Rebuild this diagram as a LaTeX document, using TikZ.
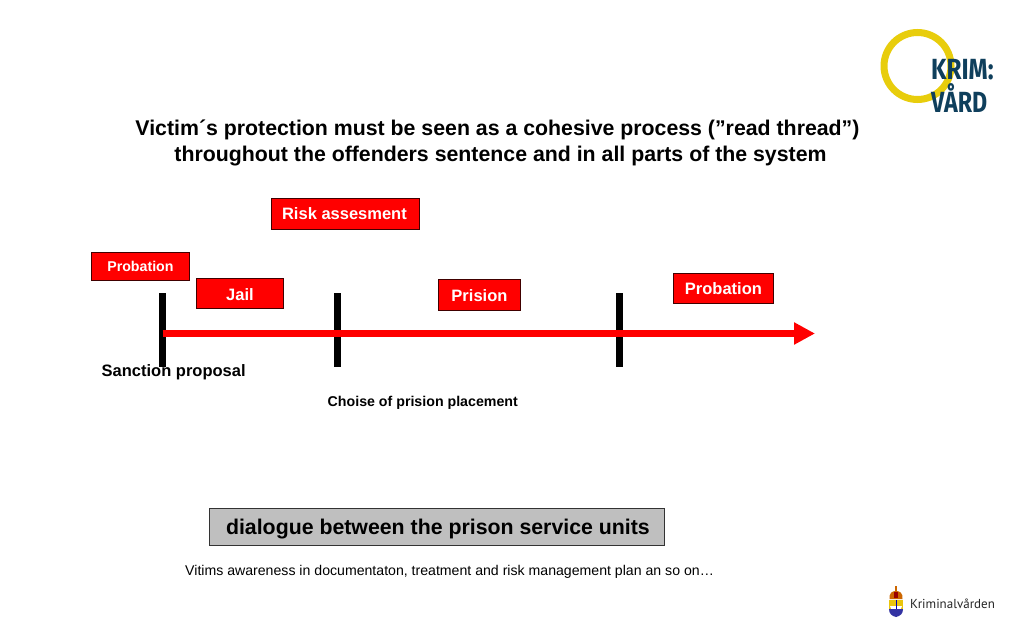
\documentclass[tikz,border=0pt]{standalone}
\usepackage{fontspec}
\setmainfont{Liberation Sans}
\newfontfamily\logofont{Fira Sans}
\newfontfamily\crestfont{PT Sans}
\usetikzlibrary{arrows.meta}
\definecolor{logoteal}{HTML}{0F3F5C}
\definecolor{logoyellow}{HTML}{E8CD0C}
\definecolor{boxred}{HTML}{FF0000}
\definecolor{boxgrey}{HTML}{BFBFBF}
\tikzset{
  redbox/.style={draw=black!75!red,line width=0.9pt,fill=boxred,text=white,font=\bfseries,inner sep=0pt,anchor=north west},
  lowtext/.style={text height=15pt,text depth=1pt},
  plainlabel/.style={text=black,inner sep=0pt},
  tick/.style={line width=7pt,black},
  thread/.style={line width=7pt,boxred,-{Triangle[length=21pt,width=21pt]}}
}
\begin{document}
\begin{tikzpicture}[x=1pt,y=-1pt]
\useasboundingbox (0,0) rectangle (1024,640);
\fill[white] (0,0) rectangle (1024,640);
% logo ring
\draw[logoyellow,line width=7pt] (917.5,66) circle (33.5);
\node[plainlabel,anchor=west,text=logoteal] (krim) at (931,70) {\logofont\bfseries\fontsize{27}{27}\selectfont\scalebox{0.9}[1.08]{KRIM:}};
\node[plainlabel,anchor=west,text=logoteal] (vard) at (931,98) {\logofont\bfseries\fontsize{27}{27}\selectfont\scalebox{0.86}[1.08]{VÅRD}};
% title
\node[plainlabel,font=\bfseries\fontsize{21.3}{26}\selectfont,align=center] (title) at (497.5,143) {Victim´s protection must be seen as a cohesive process (”read thread”)\\ \hspace*{6pt}throughout the offenders sentence and in all parts of the system};
% boxes
\node[redbox,minimum width=147.5pt,minimum height=31pt,font=\bfseries\fontsize{16.5}{18}\selectfont] (risk) at (271,197.5) {\hspace*{-1.5pt}Risk assesment};
\node[redbox,minimum width=98pt,minimum height=28pt,font=\bfseries\fontsize{14.2}{16}\selectfont] (prob1) at (91,252) {Probation};
\node[redbox,lowtext,minimum width=87pt,minimum height=30pt,font=\bfseries\fontsize{16.5}{18}\selectfont] (jail) at (196,278) {Jail};
\node[redbox,lowtext,minimum width=82pt,minimum height=31pt,font=\bfseries\fontsize{16.5}{18}\selectfont] (prison) at (438,279) {Prision};
\node[redbox,lowtext,minimum width=100pt,minimum height=30pt,font=\bfseries\fontsize{16.5}{18}\selectfont] (prob2) at (673,272.5) {Probation};
% ticks
\coordinate (t1a) at (162.5,293); \coordinate (t1b) at (162.5,367);
\coordinate (t2a) at (337.5,293); \coordinate (t2b) at (337.5,367);
\coordinate (t3a) at (619.5,293); \coordinate (t3b) at (619.5,367);
\draw[tick] (t1a) -- (t1b);
\draw[tick] (t2a) -- (t2b);
\draw[tick] (t3a) -- (t3b);
% arrow
\coordinate (as) at (162.5,333.5); \coordinate (ae) at (815,333.5);
\draw[thread] (as) -- (ae);
% labels
\node[plainlabel,anchor=west,font=\bfseries\fontsize{16.5}{18}\selectfont] (sanction) at (101.5,372.5) {Sanction proposal};
\node[plainlabel,anchor=west,font=\bfseries\fontsize{14.2}{16}\selectfont] (choise) at (327.5,403) {Choise of prision placement};
\node[draw=black!80,line width=0.8pt,fill=boxgrey,minimum width=455pt,minimum height=37pt,inner sep=0pt,anchor=north west,text height=18pt,text depth=1pt,font=\bfseries\fontsize{21.3}{24}\selectfont] (dialogue) at (209,507.5) {\hspace*{2pt}dialogue between the prison service units};
\node[plainlabel,anchor=west,font=\fontsize{14.12}{16}\selectfont] (vitims) at (185,572) {Vitims awareness in documentaton, treatment and risk management plan an so on…};
% crest
\fill[logoyellow!90!orange] (889,600) -- (903,600) -- (903,609) -- (889,609) -- cycle;
\fill[white] (890,606) -- (902,606) -- (900,611) -- (892,611) -- cycle;
\fill[blue!55!black!80] (889,609) .. controls (889,614) and (892,616) .. (896,617) .. controls (900,616) and (903,614) .. (903,609) -- cycle;
\fill[blue!70!black] (895.5,600) rectangle (896.5,609);
\fill[orange!80!black] (889.5,599) .. controls (889,593) and (892,591) .. (896,591) .. controls (900,591) and (903,593) .. (902.5,599) -- cycle;
\fill[red!60!black] (894,592) rectangle (898,598);
\fill[orange!80!black] (895.2,586) rectangle (896.8,592);
\node[plainlabel,anchor=west,text=black!85] (krimv) at (910,604) {\crestfont\fontsize{13}{13}\selectfont Kriminalvården};
\end{tikzpicture}
\end{document}
